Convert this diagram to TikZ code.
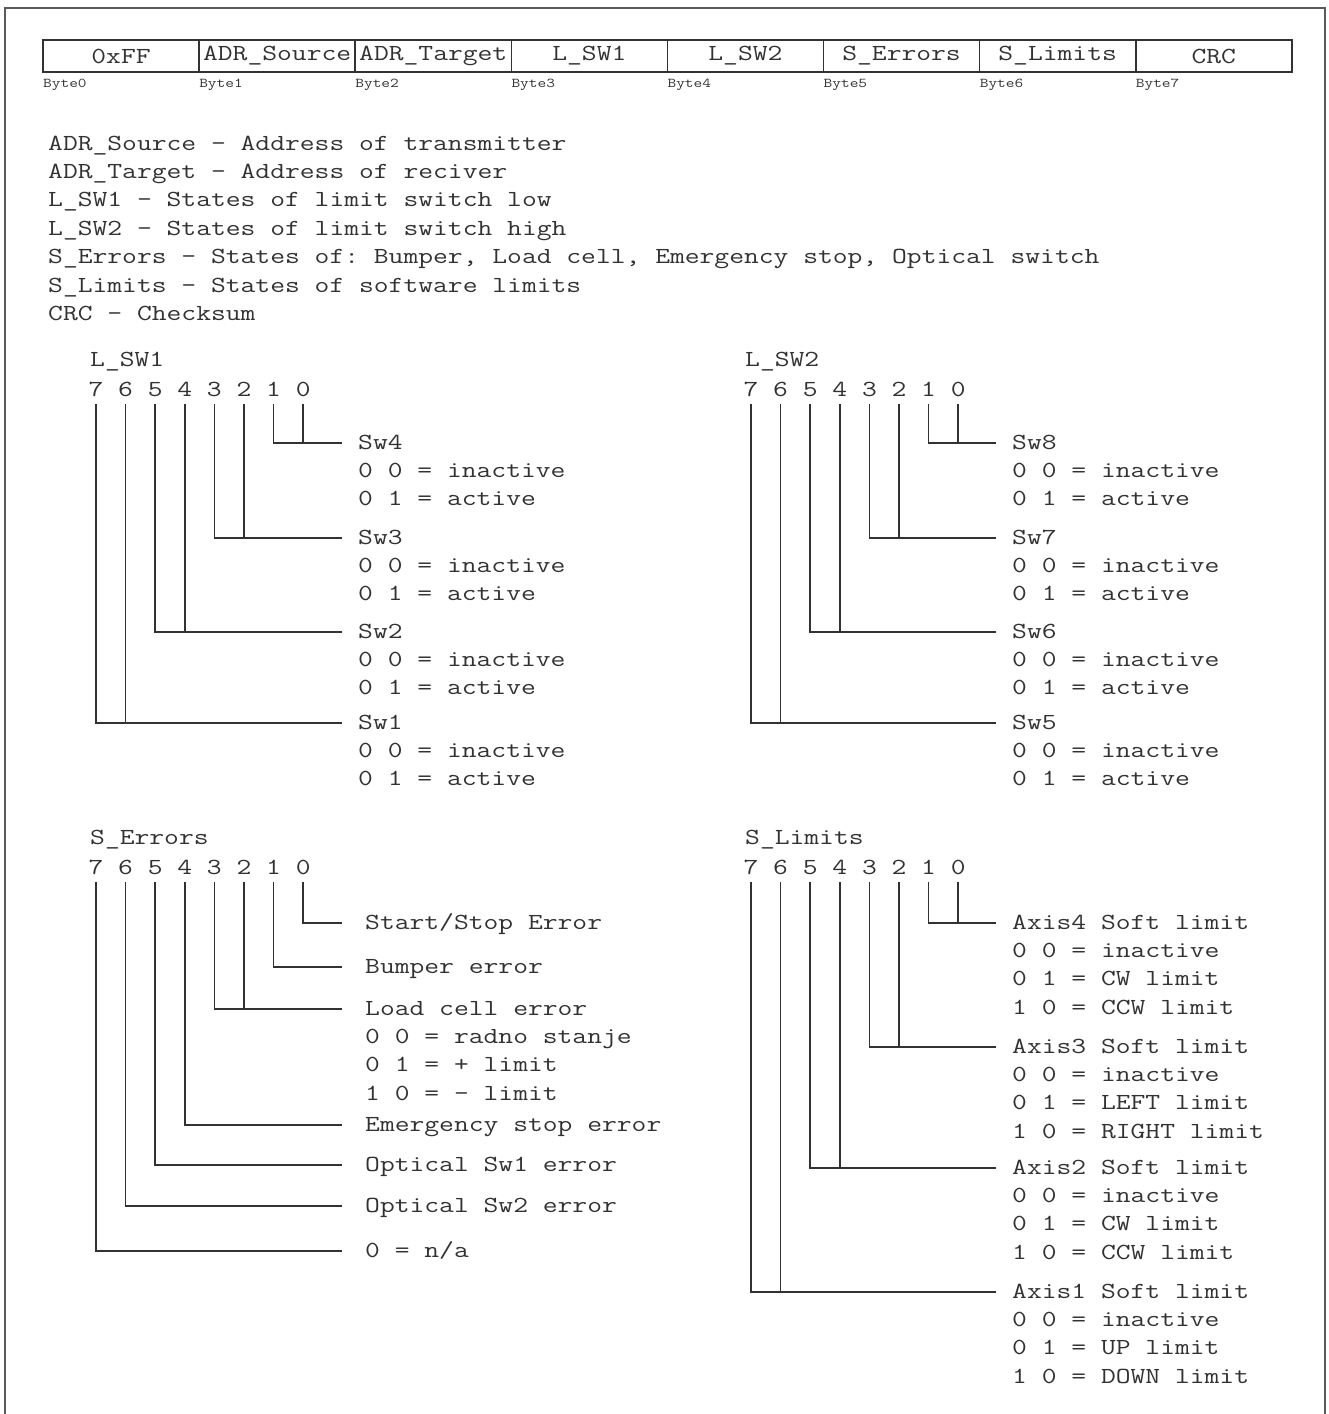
\documentclass[tikz,border=0pt]{standalone}
\usepackage{fontspec}
\setmonofont[FakeStretch=1.25]{Latin Modern Mono}
\usepackage{tikz}
\usetikzlibrary{positioning}
\definecolor{ink}{RGB}{50,50,50}
\definecolor{framegray}{RGB}{90,90,90}
\frenchspacing

\begin{document}
\begin{tikzpicture}[x=1pt, y=-1pt,
  txt/.style={font=\ttfamily\fontsize{23}{28}\selectfont, text=ink, inner sep=0pt, text height=20pt, text depth=8pt, anchor=west},
  digit/.style={txt, anchor=center},
  cell/.style={draw=ink, line width=1.6pt, font=\ttfamily\fontsize{23}{28}\selectfont, text=ink, minimum width=156.1pt, minimum height=32pt, inner sep=0pt, outer sep=0pt},
  bytelbl/.style={font=\ttfamily\fontsize{13.5}{16}\selectfont, text=ink, inner sep=0pt},
  bit/.style={draw=ink, line width=1.5pt},
  tolbl/.style={bit, shorten >=#1}]
  \useasboundingbox (0,0) rectangle (1329,1414);
  \draw[framegray, line width=1.5pt] (5,1414) -- (5,8) -- (1325,8) -- (1325,1414);

  % frame layout
  \node[cell] (c0) at (121.05,56) {0xFF};
  \node[cell, right=0pt of c0] (c1) {ADR\_Source};
  \node[cell, right=0pt of c1] (c2) {ADR\_Target};
  \node[cell, right=0pt of c2] (c3) {L\_SW1};
  \node[cell, right=0pt of c3] (c4) {L\_SW2};
  \node[cell, right=0pt of c4] (c5) {S\_Errors};
  \node[cell, right=0pt of c5] (c6) {S\_Limits};
  \node[cell, right=0pt of c6] (c7) {CRC};
  \foreach \i in {0,...,7}
    \node[bytelbl, below right=7pt and 0pt of c\i.south west] (b\i) {Byte\i};

  % legend
  \node[txt] (d1) at (48,144) {ADR\_Source - Address of transmitter};
  \node[txt, below right=0pt and 0pt of d1.south west] (d2) {ADR\_Target - Address of reciver};
  \node[txt, below right=0pt and 0pt of d2.south west] (d3) {L\_SW1 - States of limit switch low};
  \node[txt, below right=0pt and 0pt of d3.south west] (d4) {L\_SW2 - States of limit switch high};
  \node[txt, below right=0pt and 0pt of d4.south west] (d5) {S\_Errors - States of: Bumper, Load cell, Emergency stop, Optical switch};
  \node[txt, below right=0pt and 0pt of d5.south west] (d6) {S\_Limits - States of software limits};
  \node[txt, below right=0pt and 0pt of d6.south west] (d7) {CRC - Checksum};

  % L_SW1
  \node[txt] (tswa) at (90,360) {L\_SW1};
  \foreach \b [count=\k from 0] in {7,6,...,0}
    \node[digit] (swa\b) at ({96+29.6*\k},390) {\b};
  \node[txt] (sw4) at (358,443) {Sw4};
  \node[txt, below right=0pt and 0pt of sw4.south west] (sw4a) {0 0 = inactive};
  \node[txt, below right=0pt and 0pt of sw4a.south west] (sw4b) {0 1 = active};
  \node[txt] (sw3) at (358,538) {Sw3};
  \node[txt, below right=0pt and 0pt of sw3.south west] (sw3a) {0 0 = inactive};
  \node[txt, below right=0pt and 0pt of sw3a.south west] (sw3b) {0 1 = active};
  \node[txt] (sw2) at (358,632) {Sw2};
  \node[txt, below right=0pt and 0pt of sw2.south west] (sw2a) {0 0 = inactive};
  \node[txt, below right=0pt and 0pt of sw2a.south west] (sw2b) {0 1 = active};
  \node[txt] (sw1) at (358,723) {Sw1};
  \node[txt, below right=0pt and 0pt of sw1.south west] (sw1a) {0 0 = inactive};
  \node[txt, below right=0pt and 0pt of sw1a.south west] (sw1b) {0 1 = active};
  \draw[tolbl=16pt] (swa1.south) |- (sw4.west);
  \draw[bit] (swa0.south) -- (swa0.south |- sw4.west);
  \draw[tolbl=16pt] (swa3.south) |- (sw3.west);
  \draw[bit] (swa2.south) -- (swa2.south |- sw3.west);
  \draw[tolbl=16pt] (swa5.south) |- (sw2.west);
  \draw[bit] (swa4.south) -- (swa4.south |- sw2.west);
  \draw[tolbl=16pt] (swa7.south) |- (sw1.west);
  \draw[bit] (swa6.south) -- (swa6.south |- sw1.west);

  % L_SW2
  \node[txt] (tswb) at (745,360) {L\_SW2};
  \foreach \b [count=\k from 0] in {7,6,...,0}
    \node[digit] (swb\b) at ({751+29.6*\k},390) {\b};
  \node[txt] (sw8) at (1012,443) {Sw8};
  \node[txt, below right=0pt and 0pt of sw8.south west] (sw8a) {0 0 = inactive};
  \node[txt, below right=0pt and 0pt of sw8a.south west] (sw8b) {0 1 = active};
  \node[txt] (sw7) at (1012,538) {Sw7};
  \node[txt, below right=0pt and 0pt of sw7.south west] (sw7a) {0 0 = inactive};
  \node[txt, below right=0pt and 0pt of sw7a.south west] (sw7b) {0 1 = active};
  \node[txt] (sw6) at (1012,632) {Sw6};
  \node[txt, below right=0pt and 0pt of sw6.south west] (sw6a) {0 0 = inactive};
  \node[txt, below right=0pt and 0pt of sw6a.south west] (sw6b) {0 1 = active};
  \node[txt] (sw5) at (1012,723) {Sw5};
  \node[txt, below right=0pt and 0pt of sw5.south west] (sw5a) {0 0 = inactive};
  \node[txt, below right=0pt and 0pt of sw5a.south west] (sw5b) {0 1 = active};
  \draw[tolbl=16pt] (swb1.south) |- (sw8.west);
  \draw[bit] (swb0.south) -- (swb0.south |- sw8.west);
  \draw[tolbl=16pt] (swb3.south) |- (sw7.west);
  \draw[bit] (swb2.south) -- (swb2.south |- sw7.west);
  \draw[tolbl=16pt] (swb5.south) |- (sw6.west);
  \draw[bit] (swb4.south) -- (swb4.south |- sw6.west);
  \draw[tolbl=16pt] (swb7.south) |- (sw5.west);
  \draw[bit] (swb6.south) -- (swb6.south |- sw5.west);

  % S_Errors
  \node[txt] (terr) at (90,838) {S\_Errors};
  \foreach \b [count=\k from 0] in {7,6,...,0}
    \node[digit] (err\b) at ({96+29.6*\k},868) {\b};
  \node[txt] (e0) at (365,923) {Start/Stop Error};
  \node[txt] (e1) at (365,967) {Bumper error};
  \node[txt] (e2) at (365,1009) {Load cell error};
  \node[txt, below right=0pt and 0pt of e2.south west] (e2a) {0 0 = radno stanje};
  \node[txt, below right=0pt and 0pt of e2a.south west] (e2b) {0 1 = + limit};
  \node[txt, below right=0pt and 0pt of e2b.south west] (e2c) {1 0 = - limit};
  \node[txt] (e4) at (365,1125) {Emergency stop error};
  \node[txt] (e5) at (365,1165) {Optical Sw1 error};
  \node[txt] (e6) at (365,1206) {Optical Sw2 error};
  \node[txt] (e7) at (365,1251) {0 = n/a};
  \draw[tolbl=23pt] (err0.south) |- (e0.west);
  \draw[tolbl=23pt] (err1.south) |- (e1.west);
  \draw[tolbl=23pt] (err3.south) |- (e2.west);
  \draw[bit] (err2.south) -- (err2.south |- e2.west);
  \draw[tolbl=23pt] (err4.south) |- (e4.west);
  \draw[tolbl=23pt] (err5.south) |- (e5.west);
  \draw[tolbl=23pt] (err6.south) |- (e6.west);
  \draw[tolbl=23pt] (err7.south) |- (e7.west);

  % S_Limits
  \node[txt] (tlim) at (745,838) {S\_Limits};
  \foreach \b [count=\k from 0] in {7,6,...,0}
    \node[digit] (lim\b) at ({751+29.6*\k},868) {\b};
  \node[txt] (ax4) at (1012,923) {Axis4 Soft limit};
  \node[txt, below right=0pt and 0pt of ax4.south west] (ax4a) {0 0 = inactive};
  \node[txt, below right=0pt and 0pt of ax4a.south west] (ax4b) {0 1 = CW limit};
  \node[txt, below right=0pt and 0pt of ax4b.south west] (ax4c) {1 0 = CCW limit};
  \node[txt] (ax3) at (1012,1047) {Axis3 Soft limit};
  \node[txt, below right=0pt and 0pt of ax3.south west] (ax3a) {0 0 = inactive};
  \node[txt, below right=0pt and 0pt of ax3a.south west] (ax3b) {0 1 = LEFT limit};
  \node[txt, below right=0pt and 0pt of ax3b.south west] (ax3c) {1 0 = RIGHT limit};
  \node[txt] (ax2) at (1012,1168) {Axis2 Soft limit};
  \node[txt, below right=0pt and 0pt of ax2.south west] (ax2a) {0 0 = inactive};
  \node[txt, below right=0pt and 0pt of ax2a.south west] (ax2b) {0 1 = CW limit};
  \node[txt, below right=0pt and 0pt of ax2b.south west] (ax2c) {1 0 = CCW limit};
  \node[txt] (ax1) at (1012,1292) {Axis1 Soft limit};
  \node[txt, below right=0pt and 0pt of ax1.south west] (ax1a) {0 0 = inactive};
  \node[txt, below right=0pt and 0pt of ax1a.south west] (ax1b) {0 1 = UP limit};
  \node[txt, below right=0pt and 0pt of ax1b.south west] (ax1c) {1 0 = DOWN limit};
  \draw[tolbl=16pt] (lim1.south) |- (ax4.west);
  \draw[bit] (lim0.south) -- (lim0.south |- ax4.west);
  \draw[tolbl=16pt] (lim3.south) |- (ax3.west);
  \draw[bit] (lim2.south) -- (lim2.south |- ax3.west);
  \draw[tolbl=16pt] (lim5.south) |- (ax2.west);
  \draw[bit] (lim4.south) -- (lim4.south |- ax2.west);
  \draw[tolbl=16pt] (lim7.south) |- (ax1.west);
  \draw[bit] (lim6.south) -- (lim6.south |- ax1.west);
\end{tikzpicture}
\end{document}
